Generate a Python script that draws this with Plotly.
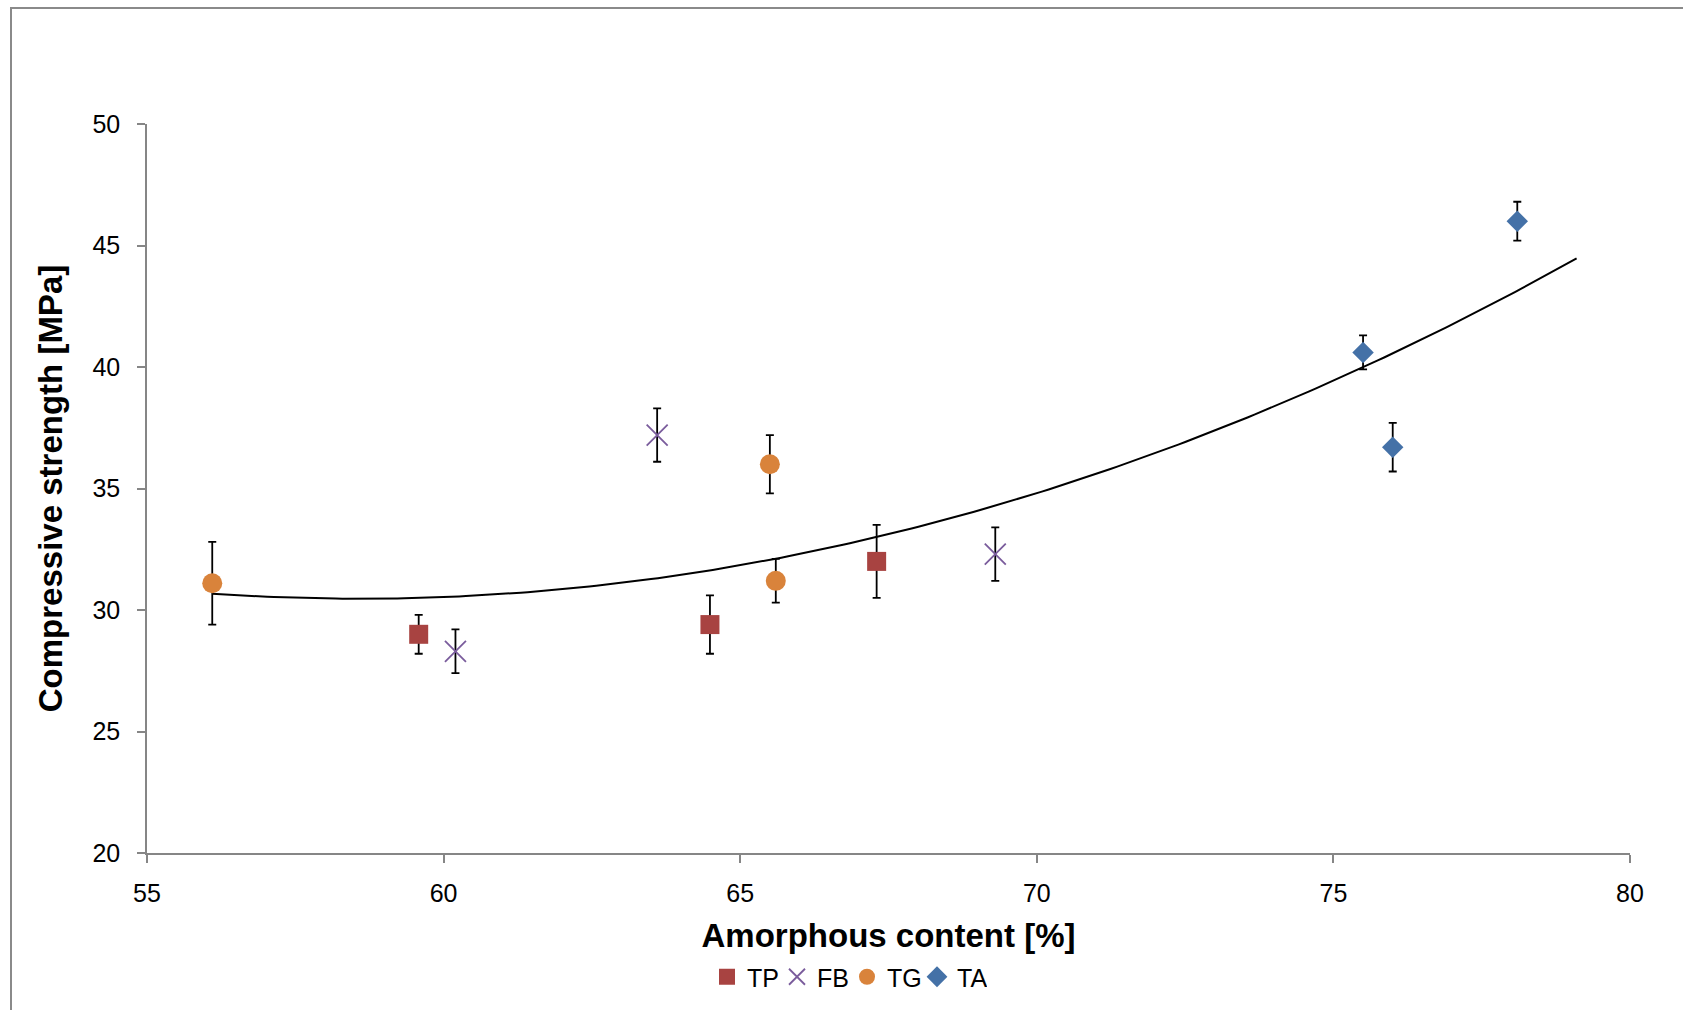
import numpy as np
import plotly.graph_objects as go

# ---- data ----
tp_x = [59.58, 64.49, 67.30]
tp_y = [29.0, 29.4, 32.0]
tp_err = [0.8, 1.2, 1.5]

fb_x = [60.2, 63.6, 69.3]
fb_y = [28.3, 37.2, 32.3]
fb_err = [0.9, 1.1, 1.1]

tg_x = [56.1, 65.5, 65.6]
tg_y = [31.1, 36.0, 31.2]
tg_err = [1.7, 1.2, 0.9]

ta_x = [75.5, 76.0, 78.1]
ta_y = [40.6, 36.7, 46.0]
ta_err = [0.7, 1.0, 0.8]

x_ticks = [55, 60, 65, 70, 75, 80]
y_ticks = [20, 25, 30, 35, 40, 45, 50]

# ---- trendline: 2nd order polynomial fitted to all points, forecast forward 1 unit ----
all_x = np.array(tp_x + fb_x + tg_x + ta_x)
all_y = np.array(tp_y + fb_y + tg_y + ta_y)
coef = np.polyfit(all_x, all_y, 2)
trend_x = np.linspace(all_x.min(), all_x.max() + 1.0, 200)
trend_y = np.polyval(coef, trend_x)

FONT = "Liberation Sans, Arial, sans-serif"
W, H = 1683, 1010
L, R, T, B = 147, 53, 124, 157

fig = go.Figure()

fig.add_trace(go.Scatter(x=trend_x, y=trend_y, mode="lines",
                         line=dict(color="black", width=2), showlegend=False,
                         hoverinfo="skip"))

def add_series(name, xs, ys, errs, symbol, color, size, line=None):
    marker = dict(symbol=symbol, color=color, size=size)
    if line:
        marker["line"] = line
    fig.add_trace(go.Scatter(
        x=xs, y=ys, mode="markers", name=name, marker=marker,
        error_y=dict(type="data", array=errs, visible=True, color="black",
                     thickness=1.8, width=4)))

add_series("TP", tp_x, tp_y, tp_err, "square", "#A84341", 19)
add_series("FB", fb_x, fb_y, fb_err, "x-thin", "#7A5C9C", 21,
           line=dict(color="#7A5C9C", width=1.8))
add_series("TG", tg_x, tg_y, tg_err, "circle", "#D9833B", 20)
add_series("TA", ta_x, ta_y, ta_err, "diamond", "#4471A7", 16.5)

axis_common = dict(showgrid=False, zeroline=False, showline=True,
                   linecolor="#868686", linewidth=1.5, ticks="outside",
                   ticklen=8, tickwidth=1.5, tickcolor="#868686",
                   tickfont=dict(family=FONT, size=25, color="black"))

fig.update_xaxes(range=[55, 80], tickvals=x_ticks, ticklabelstandoff=9,
                 title=dict(text="<b>Amorphous content [%]</b>",
                            font=dict(family=FONT, size=33, color="black"),
                            standoff=18),
                 **axis_common)
fig.update_yaxes(range=[20, 50], tickvals=y_ticks, ticklabelstandoff=12,
                 title=dict(text="<b>Compressive strength [MPa]</b>",
                            font=dict(family=FONT, size=33, color="black"),
                            standoff=20),
                 **axis_common)

# outer chart border (extends beyond right/bottom edges of the image)
pw, ph = W - L - R, H - T - B
fig.add_shape(type="rect", xref="paper", yref="paper",
              x0=(11 - L) / pw, x1=(W + 20 - L) / pw,
              y0=-(H + 20 - (H - B)) / ph, y1=((H - B) - 8) / ph,
              line=dict(color="#8a8a8a", width=2), fillcolor="rgba(0,0,0,0)")

fig.update_layout(
    width=W, height=H,
    margin=dict(l=L, r=R, t=T, b=B, autoexpand=False),
    paper_bgcolor="white", plot_bgcolor="white",
    font=dict(family=FONT, color="black"),
    legend=dict(orientation="h", x=(707 - L) / pw, xanchor="left",
                y=-(977 - (H - B)) / ph, yanchor="middle",
                font=dict(family=FONT, size=25, color="black"),
                itemsizing="trace", tracegroupgap=0, entrywidth=25,
                bgcolor="rgba(0,0,0,0)"),
)

fig.write_html("out.html")
